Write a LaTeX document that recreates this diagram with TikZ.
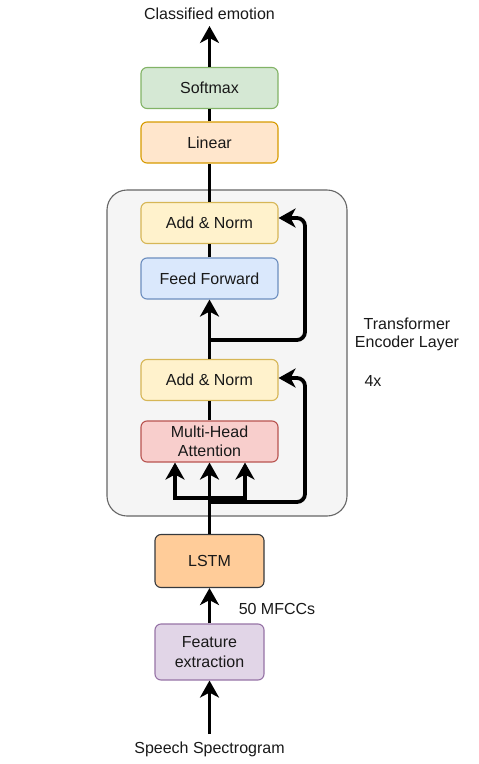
\documentclass[tikz,border=0pt]{standalone}
\usepackage{fontspec}
\setmainfont{Liberation Sans}
\usepackage{tikz}
\usetikzlibrary{arrows.meta}

\definecolor{smfill}{HTML}{D5E8D4}
\definecolor{smline}{HTML}{82B366}
\definecolor{linfill}{HTML}{FFE6CC}
\definecolor{linline}{HTML}{D79B00}
\definecolor{anfill}{HTML}{FFF2CC}
\definecolor{anline}{HTML}{D6B656}
\definecolor{fffill}{HTML}{DAE8FC}
\definecolor{ffline}{HTML}{6C8EBF}
\definecolor{mhafill}{HTML}{F8CECC}
\definecolor{mhaline}{HTML}{B85450}
\definecolor{lstmfill}{HTML}{FFCC99}
\definecolor{lstmline}{HTML}{36393D}
\definecolor{fxfill}{HTML}{E1D5E7}
\definecolor{fxline}{HTML}{9673A6}
\definecolor{encfill}{HTML}{F5F5F5}
\definecolor{encline}{HTML}{666666}

\begin{document}
\begin{tikzpicture}[x=1pt, y=-1pt,
    txt/.style={font=\fontsize{16}{19}\selectfont, text=black!90, align=center},
    blk/.style={txt, draw, line width=1.1pt, rounded corners=6pt, inner sep=0pt,
                minimum width=137pt, minimum height=41pt},
    wire/.style={line width=3.8pt},
    arr/.style={wire, -{Stealth[length=17pt, width=19pt, inset=5pt]}},
    arrtwo/.style={wire, {Stealth[length=17pt, width=19pt, inset=5pt]}-{Stealth[length=17pt, width=19pt, inset=5pt]}}]
\useasboundingbox (0,0) rectangle (479,764);
% encoder frame
\node[draw=encline, fill=encfill, line width=1.1pt, rounded corners=20pt,
      minimum width=240pt, minimum height=326pt] (enc) at (227,353) {};
% blocks
\node[blk, draw=smline, fill=smfill] (softmax) at (209.5,88) {Softmax};
\node[blk, draw=linline, fill=linfill] (linear) at (209.5,142.5) {Linear};
\node[blk, draw=anline, fill=anfill] (addtop) at (209.5,223) {Add \& Norm};
\node[blk, draw=ffline, fill=fffill] (ffwd) at (209.5,278.5) {Feed Forward};
\node[blk, draw=anline, fill=anfill] (addbot) at (209.5,380) {Add \& Norm};
\node[blk, draw=mhaline, fill=mhafill] (mha) at (209.5,441.5) {Multi-Head\\Attention};
\node[blk, draw=lstmline, fill=lstmfill, minimum width=109pt, minimum height=53pt] (lstm) at (209.5,561) {LSTM};
\node[blk, draw=fxline, fill=fxfill, minimum width=109pt, minimum height=56pt, font=\fontsize{16}{20}\selectfont] (featx) at (209.5,652) {Feature\\extraction};
% labels
\node[txt] (outlbl) at (209.5,14) {Classified emotion};
\node[txt] (inlbl) at (209.5,749) {Speech Spectrogram};
\node[txt] (mfcc) at (277,609) {50 MFCCs};
\node[txt, font=\fontsize{16}{18}\selectfont] (enclbl) at (407,334) {Transformer\\Encoder Layer};
\node[txt] (rep) at (373,381) {4x};
\coordinate (out) at (209.5,26);
\coordinate (in) at (209.5,734);
\coordinate (qL) at (175,498);
\coordinate (qR) at (245,498);
\coordinate (resA) at (209.5,502);
\coordinate (resB) at (209.5,340);
% main path
\draw[arr] (in) -- (featx);
\draw[arr] (featx) -- (lstm);
\draw[arr] (lstm) -- (mha);
\draw[arrtwo] (qL |- mha.south) -- (qL) -- (qR) -- (qR |- mha.south);
\draw[wire] (mha) -- (addbot);
\draw[arr] (addbot) -- (ffwd);
\draw[wire] (ffwd) -- (addtop);
\draw[wire] (addtop) -- (linear);
\draw[wire] (linear) -- (softmax);
\draw[arr] (softmax) -- (out);
% residuals
\draw[arr, rounded corners=8pt] (resA) -- ++(95.5,0) |- ([yshift=2pt]addbot.east);
\draw[arr, rounded corners=8pt] (resB) -- ++(95.5,0) |- ([yshift=5pt]addtop.east);
\end{tikzpicture}
\end{document}
